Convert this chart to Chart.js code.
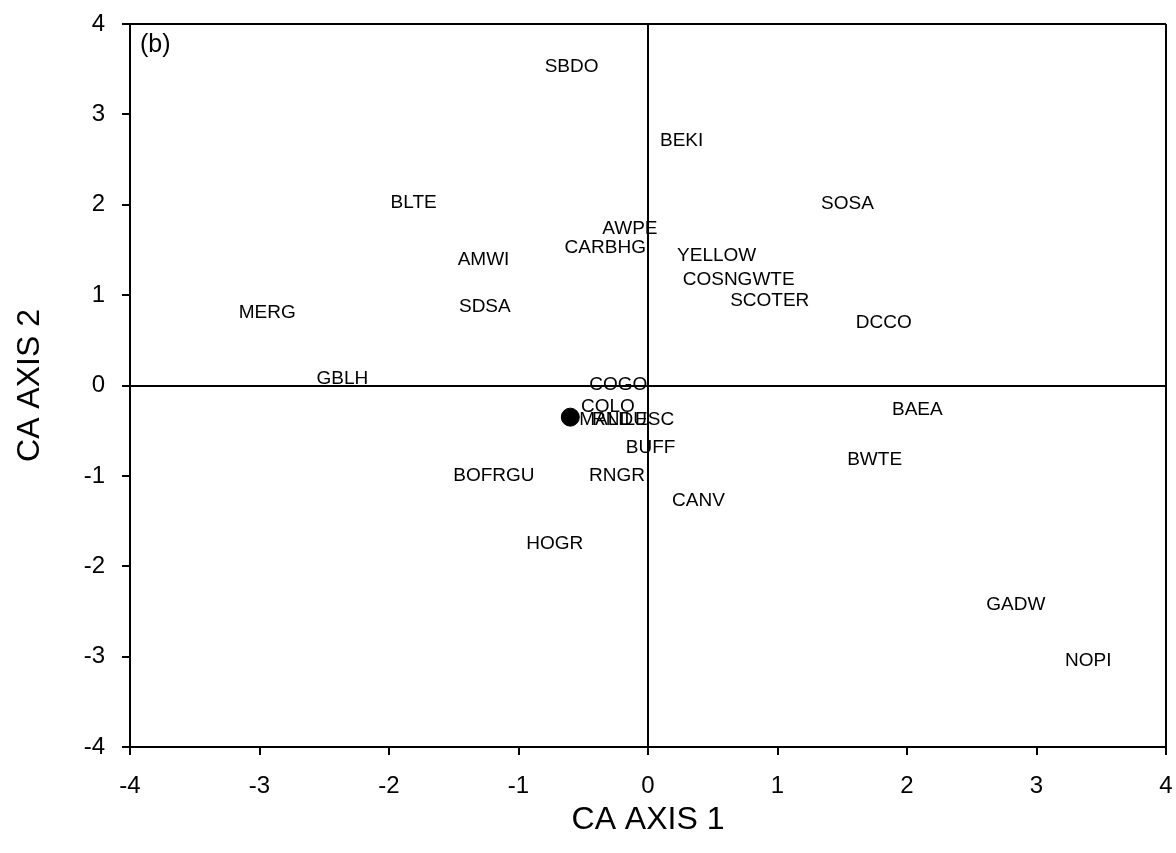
<!DOCTYPE html>
<html>
<head>
<meta charset="utf-8">
<script src="https://cdn.jsdelivr.net/npm/chart.js@4/dist/chart.umd.min.js"></script>
<style>
  body { margin: 0; background: #fff; }
  #wrap { width: 1176px; height: 853px; }
</style>
</head>
<body>
<div id="wrap"><canvas id="caChart"></canvas></div>
<script>
// species scores (axis 1, axis 2)
const speciesCodes = ['SBDO', 'BEKI', 'BLTE', 'SOSA', 'AWPE', 'CARBHG', 'AMWI', 'YELLOW',
  'COSNGWTE', 'SCOTER', 'MERG', 'SDSA', 'DCCO', 'GBLH', 'COGO', 'COLO', 'MALL', 'RNDU',
  'LESC', 'BAEA', 'BUFF', 'BWTE', 'BOFRGU', 'RNGR', 'CANV', 'HOGR', 'GADW', 'NOPI'];
const axis1Scores = [-0.59, 0.26, -1.81, 1.54, -0.14, -0.33, -1.27, 0.53,
  0.70, 0.94, -2.94, -1.26, 1.82, -2.36, -0.23, -0.31, -0.34, -0.22,
  0.01, 2.08, 0.02, 1.75, -1.19, -0.24, 0.39, -0.72, 2.84, 3.40];
const axis2Scores = [3.53, 2.71, 2.02, 2.01, 1.73, 1.52, 1.39, 1.43,
  1.17, 0.94, 0.81, 0.87, 0.69, 0.08, 0.01, -0.24, -0.38, -0.38,
  -0.38, -0.27, -0.69, -0.82, -1.00, -1.00, -1.27, -1.75, -2.43, -3.05];

// the single filled marker
const markerX = [-0.60];
const markerY = [-0.35];

const axisTicks = [-4, -3, -2, -1, 0, 1, 2, 3, 4];
const panelLabel = '(b)';

const FONT = "'Liberation Sans', Arial, sans-serif";

const labelPoints = speciesCodes.map((c, i) => ({ x: axis1Scores[i], y: axis2Scores[i] }));
const markerPoints = markerX.map((x, i) => ({ x: x, y: markerY[i] }));

// write the species codes centred on their points
const speciesText = {
  id: 'speciesText',
  afterDatasetsDraw(chart) {
    const ctx = chart.ctx;
    const meta = chart.getDatasetMeta(0);
    ctx.save();
    ctx.fillStyle = '#000';
    ctx.font = '19px ' + FONT;
    ctx.textAlign = 'center';
    ctx.textBaseline = 'middle';
    meta.data.forEach((el, i) => {
      ctx.fillText(speciesCodes[i], el.x, el.y);
    });
    const area = chart.chartArea;
    ctx.font = '25px ' + FONT;
    ctx.textAlign = 'left';
    ctx.textBaseline = 'top';
    ctx.fillText(panelLabel, area.left + 10, area.top + 9);
    ctx.restore();
  }
};

const edgeColor = (c) => (c.tick && (c.tick.value === 0 || c.tick.value === 4)) ? '#000' : 'rgba(0,0,0,0)';

// fixed axis sizes, no extra room for overhanging tick labels
function fixSize(s, w, h) {
  if (w) s.width = w;
  if (h) s.height = h;
  s.paddingTop = 0;
  s.paddingBottom = 0;
  s.paddingLeft = 0;
  s.paddingRight = 0;
}

new Chart(document.getElementById('caChart'), {
  type: 'scatter',
  data: {
    datasets: [
      {
        label: 'species',
        data: labelPoints,
        pointRadius: 0,
        pointHoverRadius: 0
      },
      {
        label: 'marker',
        data: markerPoints,
        pointRadius: 9,
        backgroundColor: '#000',
        borderColor: '#000'
      }
    ]
  },
  options: {
    responsive: true,
    maintainAspectRatio: false,
    animation: false,
    layout: { padding: { top: 24, right: 10, left: 0, bottom: 0 } },
    plugins: {
      legend: { display: false },
      tooltip: { enabled: false }
    },
    scales: {
      x: {
        type: 'linear',
        min: -4,
        max: 4,
        afterBuildTicks: (s) => { s.ticks = axisTicks.map(v => ({ value: v })); },
        afterFit: (s) => fixSize(s, 0, 106),
        ticks: { color: '#000', padding: 17, maxRotation: 0, font: { family: FONT, size: 24 } },
        grid: { color: edgeColor, lineWidth: 2, tickColor: '#000', tickLength: 8 },
        border: { display: true, color: '#000', width: 2 },
        title: { display: true, text: 'CA AXIS 1', color: '#000', padding: { top: 0, bottom: 14 }, font: { family: FONT, size: 32 } }
      },
      y: {
        type: 'linear',
        min: -4,
        max: 4,
        afterBuildTicks: (s) => { s.ticks = axisTicks.map(v => ({ value: v })); },
        afterFit: (s) => fixSize(s, 130, 0),
        ticks: { color: '#000', padding: 17, font: { family: FONT, size: 24 } },
        grid: { color: edgeColor, lineWidth: 2, tickColor: '#000', tickLength: 8 },
        border: { display: true, color: '#000', width: 2 },
        title: { display: true, text: 'CA AXIS 2', color: '#000', padding: { top: 11, bottom: 0 }, font: { family: FONT, size: 32 } }
      }
    }
  },
  plugins: [speciesText]
});
</script>
</body>
</html>
